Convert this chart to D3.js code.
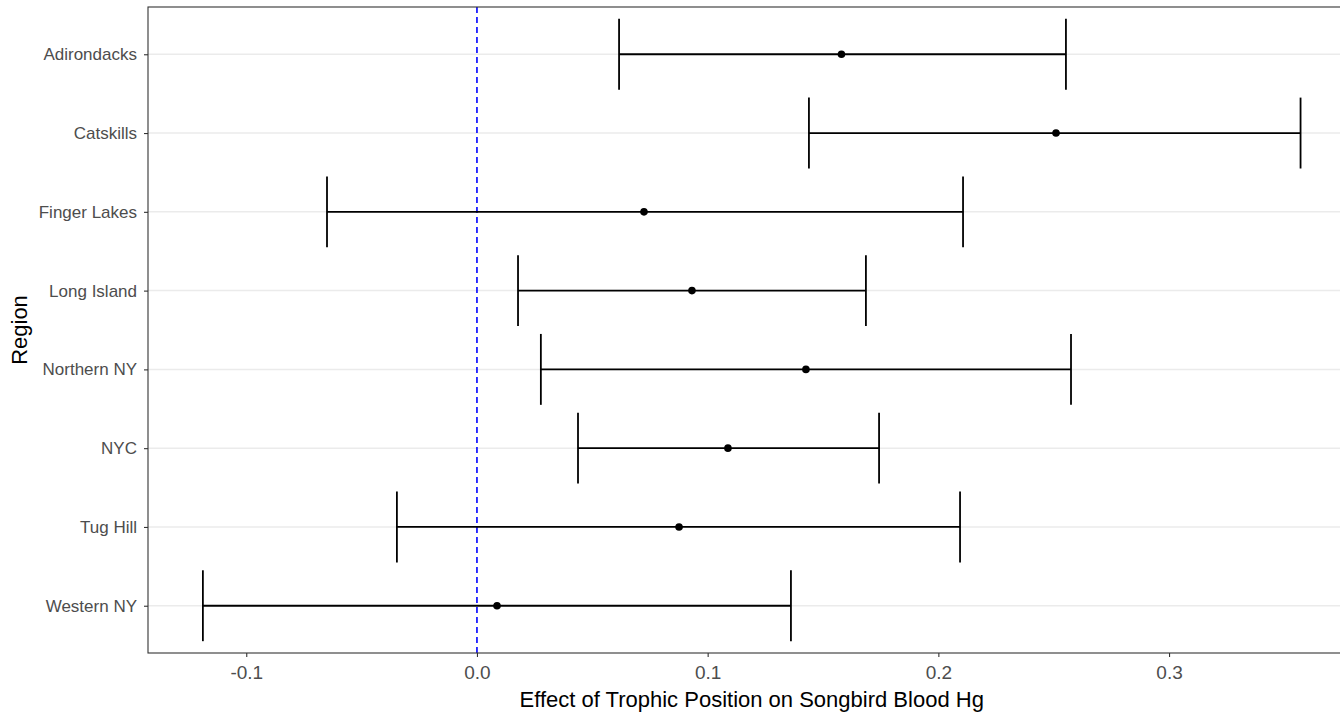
<!DOCTYPE html>
<html lang="en">
<head>
<meta charset="utf-8">
<script src="https://d3js.org/d3.v7.min.js"></script>
<style>
body { margin: 0; background: #ffffff; font-family: "Liberation Sans", Arial, sans-serif; }
.axis text { fill: #4d4d4d; font-family: "Liberation Sans", Arial, sans-serif; }
.x.axis text { font-size: 19px; }
.y.axis text { font-size: 17px; }
.axis line { stroke: #333; stroke-width: 1.1; }
</style>
</head>
<body>
<script>
// regions, top to bottom
var regions = ["Adirondacks", "Catskills", "Finger Lakes", "Long Island", "Northern NY", "NYC", "Tug Hill", "Western NY"];
var estimate = [0.158, 0.251, 0.0724, 0.0932, 0.1426, 0.1088, 0.0876, 0.0087];
var lower = [0.0616, 0.1439, -0.065, 0.0178, 0.0277, 0.0438, -0.0347, -0.1188];
var upper = [0.2553, 0.357, 0.2107, 0.1686, 0.2575, 0.1743, 0.2094, 0.1361];
var xTicks = [-0.1, 0.0, 0.1, 0.2, 0.3];

var width = 1340, height = 713;
var panelLeft = 148, panelTop = 7, panelBottom = 653;

var svg = d3.select("body").append("svg")
  .attr("width", width)
  .attr("height", height);

// x scale, 5% expansion like ggplot (right edge runs past the picture)
var xmin = d3.min(lower), xmax = d3.max(upper);
var pad = (xmax - xmin) * 0.05;
var pxPerUnit = 2307;
var x = d3.scaleLinear()
  .domain([xmin - pad, xmax + pad])
  .range([panelLeft, panelLeft + pxPerUnit * (xmax - xmin + 2 * pad)]);

// discrete y with 0.6 expansion
var y = d3.scalePoint()
  .domain(regions)
  .range([panelTop, panelBottom])
  .padding(0.6);

// horizontal grid
svg.selectAll(".grid")
  .data(regions)
  .enter().append("line")
  .attr("x1", panelLeft).attr("x2", width)
  .attr("y1", function(d) { return y(d); })
  .attr("y2", function(d) { return y(d); })
  .style("stroke", "#ebebeb")
  .style("stroke-width", 1.5);

// zero line
svg.append("line")
  .attr("x1", x(0)).attr("x2", x(0))
  .attr("y1", panelTop).attr("y2", panelBottom)
  .style("stroke", "#0000ff")
  .style("stroke-width", 1.6)
  .style("stroke-dasharray", "6,4");

var cap = y.step() * 0.9 / 2;
var rows = regions.map(function(r, i) {
  return { region: r, est: estimate[i], lo: lower[i], hi: upper[i] };
});

var g = svg.selectAll(".row").data(rows).enter().append("g");
g.append("line")
  .attr("x1", function(d) { return x(d.lo); })
  .attr("x2", function(d) { return x(d.hi); })
  .attr("y1", function(d) { return y(d.region); })
  .attr("y2", function(d) { return y(d.region); })
  .style("stroke", "#000").style("stroke-width", 1.8);
g.append("line")
  .attr("x1", function(d) { return x(d.lo); })
  .attr("x2", function(d) { return x(d.lo); })
  .attr("y1", function(d) { return y(d.region) - cap; })
  .attr("y2", function(d) { return y(d.region) + cap; })
  .style("stroke", "#000").style("stroke-width", 1.8);
g.append("line")
  .attr("x1", function(d) { return x(d.hi); })
  .attr("x2", function(d) { return x(d.hi); })
  .attr("y1", function(d) { return y(d.region) - cap; })
  .attr("y2", function(d) { return y(d.region) + cap; })
  .style("stroke", "#000").style("stroke-width", 1.8);
g.append("circle")
  .attr("cx", function(d) { return x(d.est); })
  .attr("cy", function(d) { return y(d.region); })
  .attr("r", 3.8)
  .style("fill", "#000");

// panel border
svg.append("rect")
  .attr("x", panelLeft).attr("y", panelTop)
  .attr("width", x.range()[1] - panelLeft)
  .attr("height", panelBottom - panelTop)
  .style("fill", "none")
  .style("stroke", "#333")
  .style("stroke-width", 1.1);

// axes
svg.append("g")
  .attr("class", "x axis")
  .attr("transform", "translate(0," + panelBottom + ")")
  .call(d3.axisBottom(x).tickValues(xTicks)
    .tickFormat(function(d) { return d.toFixed(1); })
    .tickSize(4).tickPadding(9))
  .call(function(a) { a.select(".domain").remove(); });

svg.append("g")
  .attr("class", "y axis")
  .attr("transform", "translate(" + panelLeft + ",0)")
  .call(d3.axisLeft(y).tickSize(4).tickPadding(7))
  .call(function(a) { a.select(".domain").remove(); });

// titles
svg.append("text")
  .attr("x", (x.range()[0] + x.range()[1]) / 2)
  .attr("y", 707)
  .style("text-anchor", "middle")
  .style("font-size", "22px")
  .style("fill", "#000")
  .text("Effect of Trophic Position on Songbird Blood Hg");

svg.append("text")
  .attr("transform", "translate(27," + ((panelTop + panelBottom) / 2) + ") rotate(-90)")
  .style("text-anchor", "middle")
  .style("font-size", "22px")
  .style("fill", "#000")
  .text("Region");
</script>
</body>
</html>
